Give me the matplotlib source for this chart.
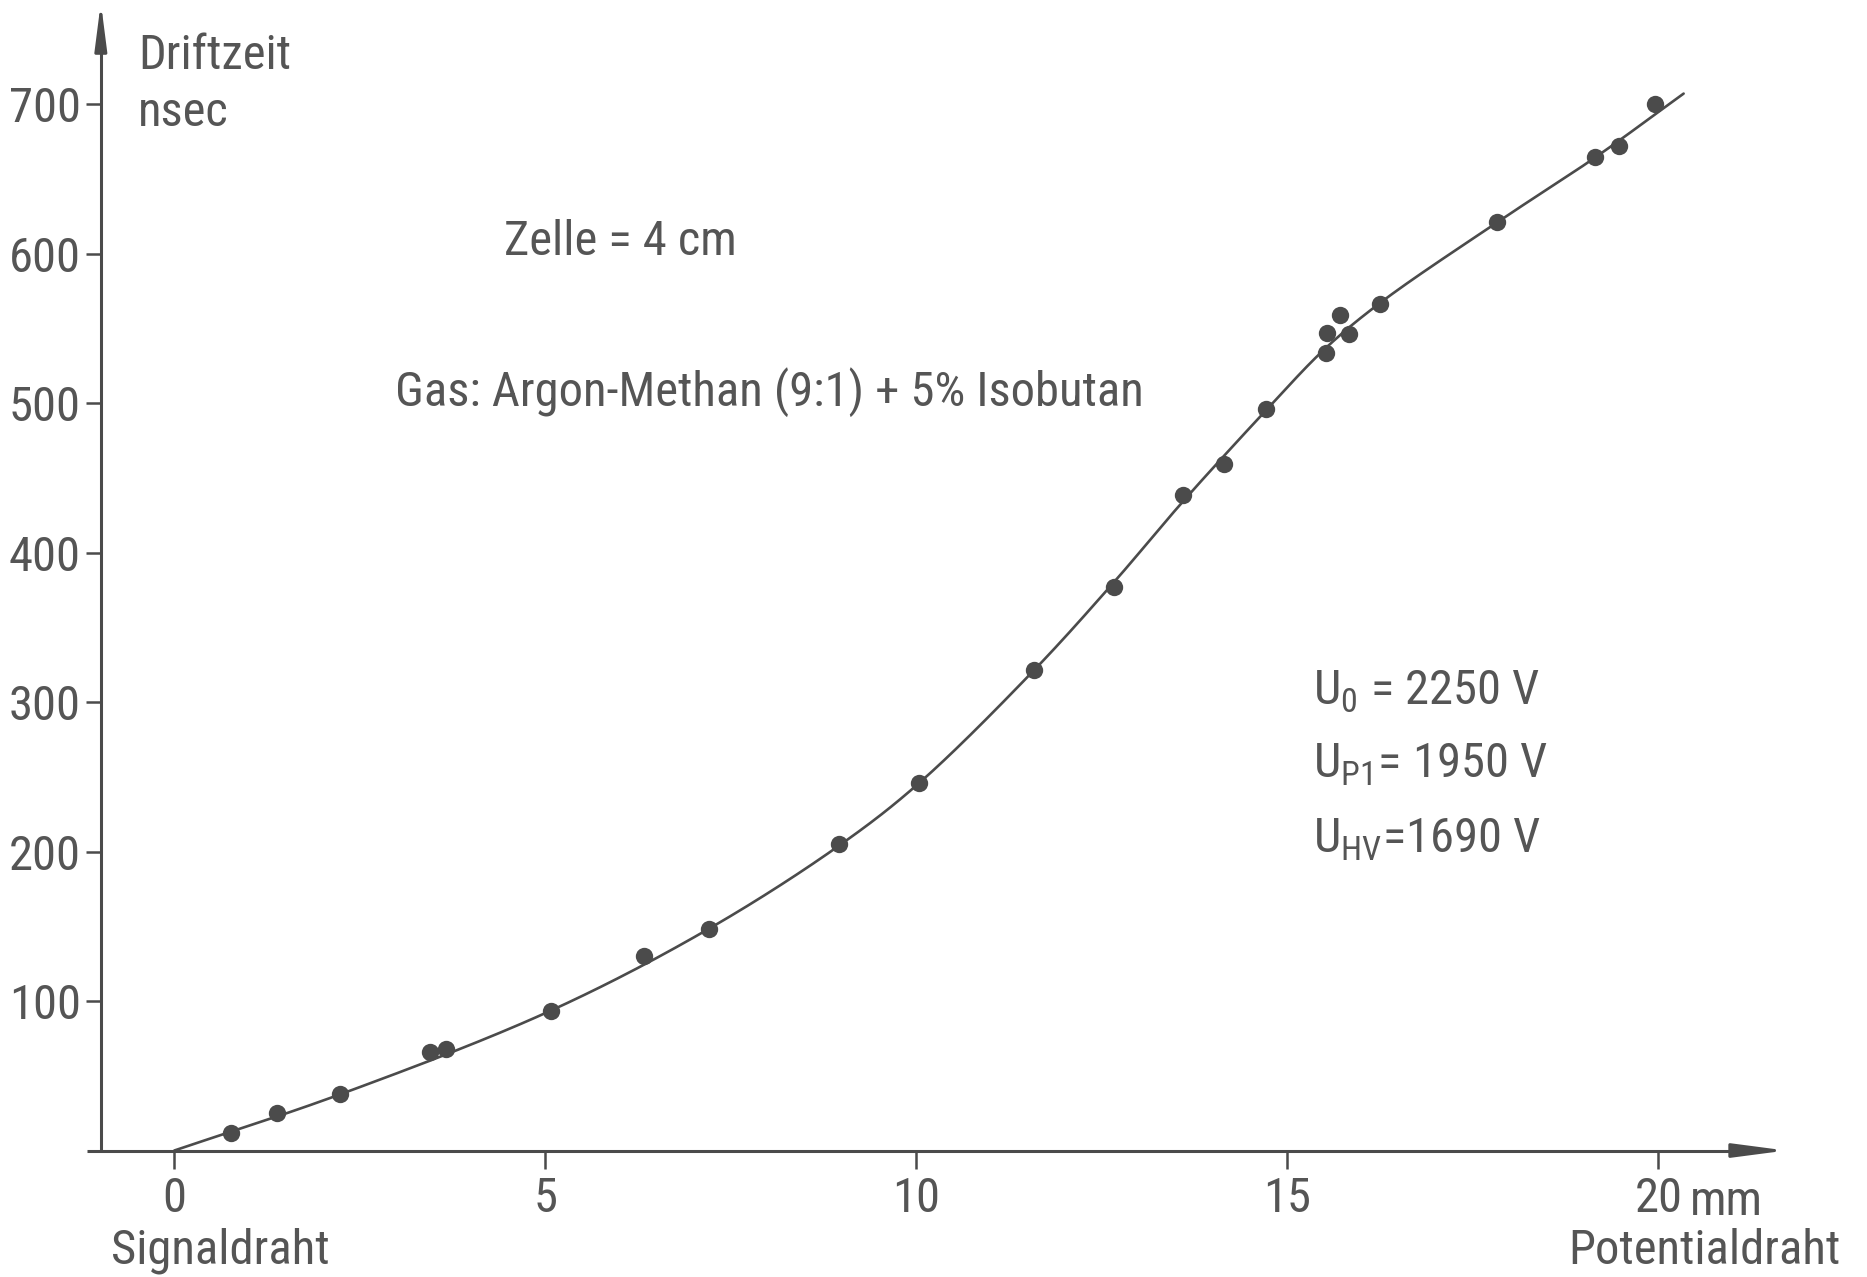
import numpy as np
import matplotlib
matplotlib.use("Agg")
import matplotlib.pyplot as plt
from matplotlib import font_manager

# Measured drift times (distance from signal wire in mm, drift time in ns)
drift_mm = [0.77, 1.39, 2.23, 3.45, 3.66, 5.07, 6.33, 7.21, 8.96, 10.03,
            11.58, 12.66, 13.59, 14.15, 14.71, 15.52, 15.53, 15.71, 15.83,
            16.25, 17.83, 19.14, 19.47, 19.96]
drift_ns = [11.9, 24.9, 38.0, 66.1, 67.9, 93.5, 130.1, 148.0, 204.8, 245.6,
            321.4, 377.1, 438.5, 459.2, 496.2, 533.2, 547.0, 558.9, 546.2,
            566.0, 621.3, 664.3, 671.9, 700.0]

# Hand-drawn curve through the measurements
curve_mm = [0, 2.23, 5.07, 7.21, 8.96, 10.03, 11.58, 12.66, 13.59, 14.71,
            15.5, 16.25, 17.83, 19.14, 20.34]
curve_ns = [0, 37.5, 93.5, 148.5, 204, 245.5, 321, 380, 434, 495,
            536, 567, 621, 664, 707]

x_ticks = [0, 5, 10, 15, 20]
y_ticks = [100, 200, 300, 400, 500, 600, 700]

INK = "#4b4b4b"
TEXT = "#555555"

# pick a narrow sans for the stencil-like lettering
available = {f.name for f in font_manager.fontManager.ttflist}
FONT = "DejaVu Sans"
for cand in ["Roboto Condensed", "Liberation Sans Narrow", "Open Sans Condensed",
             "Liberation Sans"]:
    if cand in available:
        FONT = cand
        break

plt.rcParams["font.family"] = [FONT, "DejaVu Sans"]
plt.rcParams["mathtext.fontset"] = "custom"
plt.rcParams["mathtext.rm"] = FONT
FS = 35

# data units -> pixels, used to parameterise the curve evenly on screen
PX_PER_MM = 74.2
PX_PER_NS = 1.495


def centripetal_spline(xs, ys, n=40):
    """Centripetal Catmull-Rom pass through the curve knots."""
    pts = np.column_stack([np.asarray(xs) * PX_PER_MM,
                           np.asarray(ys) * PX_PER_NS]).astype(float)
    p = np.vstack([2 * pts[0] - pts[1], pts, 2 * pts[-1] - pts[-2]])
    out = []
    for i in range(1, len(p) - 2):
        p0, p1, p2, p3 = p[i - 1], p[i], p[i + 1], p[i + 2]
        t0 = 0.0
        t1 = t0 + np.linalg.norm(p1 - p0) ** 0.5
        t2 = t1 + np.linalg.norm(p2 - p1) ** 0.5
        t3 = t2 + np.linalg.norm(p3 - p2) ** 0.5
        t = np.linspace(t1, t2, n, endpoint=False)[:, None]
        a1 = (t1 - t) / (t1 - t0) * p0 + (t - t0) / (t1 - t0) * p1
        a2 = (t2 - t) / (t2 - t1) * p1 + (t - t1) / (t2 - t1) * p2
        a3 = (t3 - t) / (t3 - t2) * p2 + (t - t2) / (t3 - t2) * p3
        b1 = (t2 - t) / (t2 - t0) * a1 + (t - t0) / (t2 - t0) * a2
        b2 = (t3 - t) / (t3 - t1) * a2 + (t - t1) / (t3 - t1) * a3
        out.append((t2 - t) / (t2 - t1) * b1 + (t - t1) / (t2 - t1) * b2)
    out.append(pts[-1:])
    out = np.vstack(out)
    return out[:, 0] / PX_PER_MM, out[:, 1] / PX_PER_NS


fig = plt.figure(figsize=(18.67, 12.77), dpi=100)
ax = fig.add_axes([0, 0, 1, 1])
ax.set_xlim(-2.349, 22.811)
ax.set_ylim(-84.6, 769.6)
ax.patch.set_visible(False)

# axes drawn as spines crossing near the origin
for side in ("top", "right"):
    ax.spines[side].set_visible(False)
ax.spines["left"].set_position(("data", -0.99))
ax.spines["left"].set_bounds(0, 745)
ax.spines["bottom"].set_position(("data", 0))
ax.spines["bottom"].set_bounds(-1.175, 21.3)
for side in ("left", "bottom"):
    ax.spines[side].set_color(INK)
    ax.spines[side].set_linewidth(2.2)
    ax.spines[side].set_capstyle("butt")

ax.set_xticks(x_ticks)
ax.set_xticklabels([str(v) for v in x_ticks])
ax.set_yticks(y_ticks)
ax.set_yticklabels([str(v) for v in y_ticks])
ax.tick_params(axis="x", direction="out", length=13, width=1.8, pad=5.5,
               colors=INK, labelcolor=TEXT, labelsize=FS)
ax.tick_params(axis="y", direction="out", length=10.8, width=1.8, pad=3.6,
               colors=INK, labelcolor=TEXT, labelsize=FS)

# arrow heads on both axes
ax.annotate("", xy=(21.72, 0), xytext=(21.1, 0),
            arrowprops=dict(arrowstyle="-|>,head_length=3.2,head_width=0.42",
                            mutation_scale=10, color=INK, lw=2.2,
                            shrinkA=0, shrinkB=0))
ax.annotate("", xy=(-0.99, 768.0), xytext=(-0.99, 740),
            arrowprops=dict(arrowstyle="-|>,head_length=2.8,head_width=0.36",
                            mutation_scale=10, color=INK, lw=2.2,
                            shrinkA=0, shrinkB=0))

# fitted curve and measured points
cx, cy = centripetal_spline(curve_mm, curve_ns)
ax.plot(cx, cy, color=INK, lw=1.9, solid_capstyle="round", zorder=2)
ax.plot(drift_mm, drift_ns, "o", color=INK, markersize=12.5,
        markeredgewidth=0, zorder=3)

# axis captions
ax.text(-0.49, 723.4, "Driftzeit", fontsize=FS, color=TEXT, va="baseline")
ax.text(-0.49, 685.3, "nsec", fontsize=FS, color=TEXT, va="baseline")
ax.text(20.43, -43.1, "mm", fontsize=FS, color=TEXT, va="baseline")
ax.text(-0.85, -75.9, "Signaldraht", fontsize=FS, color=TEXT, va="baseline")
ax.text(22.46, -75.9, "Potentialdraht", fontsize=FS, color=TEXT,
        va="baseline", ha="right")

# annotations
ax.text(4.44, 599.0, "Zelle = 4 cm", fontsize=FS, color=TEXT, va="baseline")
ax.text(2.97, 498.0, "Gas: Argon-Methan (9:1) + 5% Isobutan", fontsize=FS,
        color=TEXT, va="baseline")
ax.text(15.35, 297.9, r"U$_\mathrm{0}$ = 2250 V", fontsize=FS, color=TEXT,
        va="baseline")
ax.text(15.35, 249.2, r"U$_\mathrm{P1}$= 1950 V", fontsize=FS, color=TEXT,
        va="baseline")
ax.text(15.35, 199.0, r"U$_\mathrm{HV}$=1690 V", fontsize=FS, color=TEXT,
        va="baseline")

fig.savefig("out.png", dpi=100, facecolor="white")
